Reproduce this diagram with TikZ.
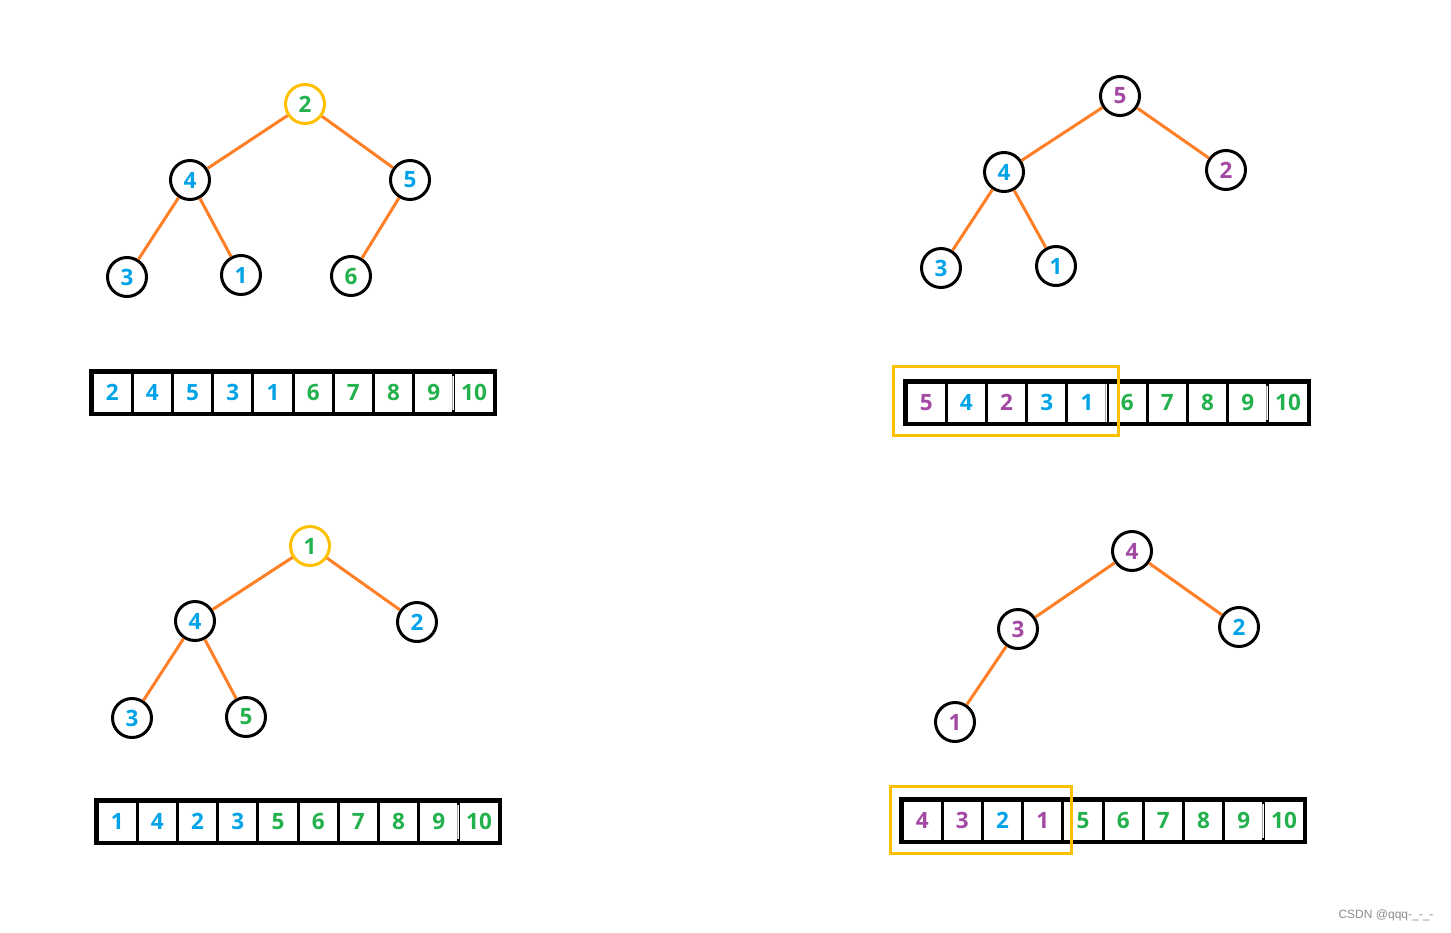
\documentclass[tikz,border=0pt]{standalone}
\usepackage{fontspec}
\setmainfont{Open Sans}
\newfontfamily\wmfont{Liberation Sans}
\definecolor{cblue}{HTML}{00A2E8}
\definecolor{cgreen}{HTML}{22B14C}
\definecolor{cpurple}{HTML}{A349A4}
\definecolor{corange}{HTML}{FF7F27}
\definecolor{cyellow}{HTML}{FFC000}
\begin{document}
\begin{tikzpicture}[x=1pt,y=-1pt,
  tn/.style={circle,draw=black,line width=3pt,minimum size=39pt,inner sep=0pt,fill=white,font=\bfseries\fontsize{22.5}{26}\selectfont},
  rootn/.style={tn,draw=cyellow},
  edge/.style={draw=corange,line width=3pt},
  cell/.style={rectangle,draw=black,line width=3pt,minimum width=40.2pt,minimum height=41pt,inner sep=0pt,font=\bfseries\fontsize{22.5}{26}\selectfont},
  frame/.style={draw=black,line width=3.5pt},
  hl/.style={draw=cyellow,line width=3pt},
  soft/.style={draw=white,line width=3pt},
  softline/.style={draw=black!35,line width=1pt}
]
\useasboundingbox (0,0) rectangle (1451,932);
\fill[white] (0,0) rectangle (1451,932);

% ---------- Tree 1 ----------
\node[rootn,text=cgreen] (t1a) at (305,104) {2};
\node[tn,text=cblue] (t1b) at (190,180) {4};
\node[tn,text=cblue] (t1c) at (410,180) {5};
\node[tn,text=cblue] (t1d) at (127,277) {3};
\node[tn,text=cblue] (t1e) at (241,275) {1};
\node[tn,text=cgreen] (t1f) at (351,276) {6};
\draw[edge] (t1a) -- (t1b);
\draw[edge] (t1a) -- (t1c);
\draw[edge] (t1b) -- (t1d);
\draw[edge] (t1b) -- (t1e);
\draw[edge] (t1c) -- (t1f);

% ---------- Array 1 ----------
\foreach \d/\c [count=\i] in {2/cblue,4/cblue,5/cblue,3/cblue,1/cblue,6/cgreen,7/cgreen,8/cgreen,9/cgreen,10/cgreen}
  \node[cell,text=\c] (a1c\i) at ({92+20.2+40.2*(\i-1)},392.5) {\d};
\draw[frame] (a1c1.north west) rectangle (a1c10.south east);
\draw[soft] ([yshift=-5pt]a1c10.north west) -- ([yshift=5pt]a1c10.south west);
\draw[softline] ([yshift=-5pt]a1c10.north west) -- ([yshift=5pt]a1c10.south west);

% ---------- Tree 2 ----------
\node[tn,text=cpurple] (t2a) at (1120,96) {5};
\node[tn,text=cblue] (t2b) at (1004,172) {4};
\node[tn,text=cpurple] (t2c) at (1226,170) {2};
\node[tn,text=cblue] (t2d) at (941,268) {3};
\node[tn,text=cblue] (t2e) at (1056,266) {1};
\draw[edge] (t2a) -- (t2b);
\draw[edge] (t2a) -- (t2c);
\draw[edge] (t2b) -- (t2d);
\draw[edge] (t2b) -- (t2e);

% ---------- Array 2 ----------
\foreach \d/\c [count=\i] in {5/cpurple,4/cblue,2/cpurple,3/cblue,1/cblue,6/cgreen,7/cgreen,8/cgreen,9/cgreen,10/cgreen}
  \node[cell,text=\c] (a2c\i) at ({906+20.2+40.2*(\i-1)},402.5) {\d};
\draw[frame] (a2c1.north west) rectangle (a2c10.south east);
\draw[soft] ([yshift=-5pt]a2c10.north west) -- ([yshift=5pt]a2c10.south west);
\draw[softline] ([yshift=-5pt]a2c10.north west) -- ([yshift=5pt]a2c10.south west);
\draw[soft] ([yshift=-3pt]a2c6.north west) -- ([yshift=3pt]a2c6.south west);
\draw[softline] ([yshift=-3pt]a2c6.north west) -- ([yshift=3pt]a2c6.south west);
\coordinate (h2a) at (893,366);
\coordinate (h2b) at (1118,435);
\draw[hl] (h2a) rectangle (h2b);

% ---------- Tree 3 ----------
\node[rootn,text=cgreen] (t3a) at (310,546) {1};
\node[tn,text=cblue] (t3b) at (195,621) {4};
\node[tn,text=cblue] (t3c) at (417,622) {2};
\node[tn,text=cblue] (t3d) at (132,718) {3};
\node[tn,text=cgreen] (t3e) at (246,717) {5};
\draw[edge] (t3a) -- (t3b);
\draw[edge] (t3a) -- (t3c);
\draw[edge] (t3b) -- (t3d);
\draw[edge] (t3b) -- (t3e);

% ---------- Array 3 ----------
\foreach \d/\c [count=\i] in {1/cblue,4/cblue,2/cblue,3/cblue,5/cgreen,6/cgreen,7/cgreen,8/cgreen,9/cgreen,10/cgreen}
  \node[cell,text=\c] (a3c\i) at ({97+20.2+40.2*(\i-1)},821.5) {\d};
\draw[frame] (a3c1.north west) rectangle (a3c10.south east);
\draw[soft] ([yshift=-5pt]a3c10.north west) -- ([yshift=5pt]a3c10.south west);
\draw[softline] ([yshift=-5pt]a3c10.north west) -- ([yshift=5pt]a3c10.south west);

% ---------- Tree 4 ----------
\node[tn,text=cpurple] (t4a) at (1132,551) {4};
\node[tn,text=cpurple] (t4b) at (1018,629) {3};
\node[tn,text=cblue] (t4c) at (1239,627) {2};
\node[tn,text=cpurple] (t4d) at (955,722) {1};
\draw[edge] (t4a) -- (t4b);
\draw[edge] (t4a) -- (t4c);
\draw[edge] (t4b) -- (t4d);

% ---------- Array 4 ----------
\foreach \d/\c [count=\i] in {4/cpurple,3/cpurple,2/cblue,1/cpurple,5/cgreen,6/cgreen,7/cgreen,8/cgreen,9/cgreen,10/cgreen}
  \node[cell,text=\c] (a4c\i) at ({902+20.2+40.2*(\i-1)},820.5) {\d};
\draw[frame] (a4c1.north west) rectangle (a4c10.south east);
\draw[soft] ([yshift=-5pt]a4c10.north west) -- ([yshift=5pt]a4c10.south west);
\draw[softline] ([yshift=-5pt]a4c10.north west) -- ([yshift=5pt]a4c10.south west);
\coordinate (h4a) at (890,786);
\coordinate (h4b) at (1071,853);
\draw[hl] (h4a) rectangle (h4b);

% ---------- watermark ----------
\node[text=black!45,font=\wmfont\fontsize{12}{14}\selectfont,inner sep=0pt] (wm) at (1386,915) {CSDN @qqq-\_-\_-};
\end{tikzpicture}
\end{document}
